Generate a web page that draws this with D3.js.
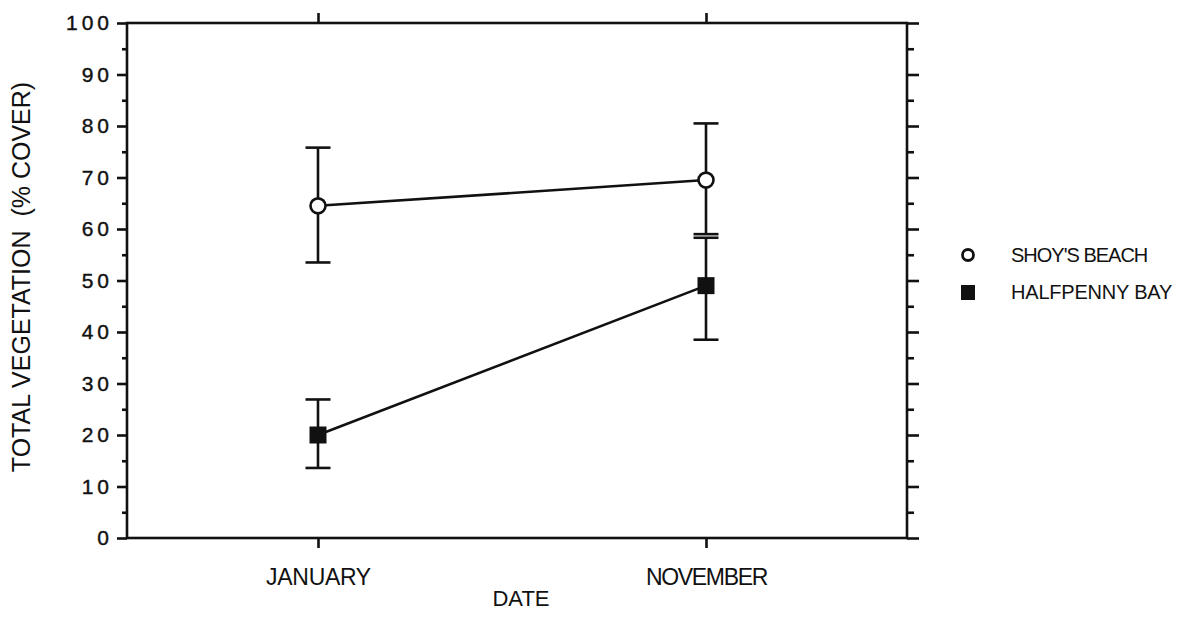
<!DOCTYPE html>
<html>
<head>
<meta charset="utf-8">
<script src="https://cdn.jsdelivr.net/npm/d3@7"></script>
<style>
  body { margin: 0; background: #fff; }
  svg { display: block; font-family: "Liberation Sans", Arial, sans-serif; }
</style>
</head>
<body>
<svg id="chart" width="1202" height="637"></svg>
<script>
// Sampling dates and sites
const dates = ["JANUARY", "NOVEMBER"];
const sites = ["SHOY'S BEACH", "HALFPENNY BAY"];

// Mean total vegetation cover (%) with error bar limits
const shoysMean  = [64.5, 69.5];
const shoysLow   = [53.5, 59];
const shoysHigh  = [75.8, 80.5];
const halfMean   = [20, 49];
const halfLow    = [13.6, 38.5];
const halfHigh   = [26.9, 58.3];

const yTicks = [0, 10, 20, 30, 40, 50, 60, 70, 80, 90, 100];
const yMinor = [5, 15, 25, 35, 45, 55, 65, 75, 85, 95];

const svg = d3.select("#chart");
const L = 127, R = 907, T = 23, B = 538;

const y = d3.scaleLinear().domain([0, 100]).range([B, T]);
const x = d3.scalePoint().domain(dates).range([318, 706]);

const ink = "#111";
const sw = 2.6;

// frame
svg.append("rect").attr("x", L).attr("y", T).attr("width", R - L).attr("height", B - T)
  .attr("fill", "none").attr("stroke", ink).attr("stroke-width", sw);

// left axis: labelled major ticks, short minor ticks
const left = svg.append("g").attr("transform", `translate(${L},0)`)
  .call(d3.axisLeft(y).tickValues(yTicks).tickSize(10).tickPadding(4).tickFormat(d3.format("d")));
left.select(".domain").remove();
left.selectAll(".tick line").attr("stroke", ink).attr("stroke-width", sw);
left.selectAll(".tick text").attr("fill", ink).attr("font-size", 21)
  .attr("stroke", ink).attr("stroke-width", 0.4)
  .attr("letter-spacing", "4px");
svg.append("g").attr("transform", `translate(${L},0)`)
  .call(d3.axisLeft(y).tickValues(yMinor).tickSize(5).tickFormat(""))
  .call(g => g.select(".domain").remove())
  .selectAll(".tick line").attr("stroke", ink).attr("stroke-width", sw);

// right axis: outward ticks, no labels
svg.append("g").attr("transform", `translate(${R},0)`)
  .call(d3.axisRight(y).tickValues(yTicks).tickSize(12).tickFormat(""))
  .call(g => g.select(".domain").remove())
  .selectAll(".tick line").attr("stroke", ink).attr("stroke-width", sw);
svg.append("g").attr("transform", `translate(${R},0)`)
  .call(d3.axisRight(y).tickValues(yMinor).tickSize(7).tickFormat(""))
  .call(g => g.select(".domain").remove())
  .selectAll(".tick line").attr("stroke", ink).attr("stroke-width", sw);

// bottom axis with date labels
const bottom = svg.append("g").attr("transform", `translate(0,${B})`)
  .call(d3.axisBottom(x).tickSize(10).tickPadding(21));
bottom.select(".domain").remove();
bottom.selectAll(".tick line").attr("stroke", ink).attr("stroke-width", sw);
bottom.selectAll(".tick text").attr("fill", ink).attr("font-size", 23)
  .attr("letter-spacing", d => d === "NOVEMBER" ? "-1.3px" : "-0.3px");

// top axis ticks
svg.append("g").attr("transform", `translate(0,${T})`)
  .call(d3.axisTop(x).tickSize(10).tickFormat(""))
  .call(g => g.select(".domain").remove())
  .selectAll(".tick line").attr("stroke", ink).attr("stroke-width", sw);

// axis titles
svg.append("text").attr("x", 521).attr("y", 606).attr("text-anchor", "middle")
  .attr("font-size", 22).attr("fill", ink).text("DATE");
svg.append("text").attr("transform", `translate(30,277) rotate(-90)`)
  .attr("text-anchor", "middle").attr("font-size", 25).attr("fill", ink)
  .attr("xml:space", "preserve")
  .text("TOTAL VEGETATION  (% COVER)");

const series = [
  { name: sites[0], mean: shoysMean, low: shoysLow, high: shoysHigh, shape: "circle" },
  { name: sites[1], mean: halfMean, low: halfLow, high: halfHigh, shape: "square" }
];

const line = d3.line().x((d, i) => x(dates[i])).y(d => y(d));
const capW = 12.5;

series.forEach(s => {
  const g = svg.append("g");
  // error bars
  dates.forEach((dt, i) => {
    const cx = x(dt);
    g.append("line").attr("x1", cx).attr("x2", cx).attr("y1", y(s.low[i])).attr("y2", y(s.high[i]))
      .attr("stroke", ink).attr("stroke-width", sw);
    [s.low[i], s.high[i]].forEach(v => {
      g.append("line").attr("x1", cx - capW).attr("x2", cx + capW).attr("y1", y(v)).attr("y2", y(v))
        .attr("stroke", ink).attr("stroke-width", sw);
    });
  });
  // connecting line
  g.append("path").attr("d", line(s.mean)).attr("fill", "none").attr("stroke", ink).attr("stroke-width", sw);
  // markers
  s.mean.forEach((v, i) => {
    const cx = x(dates[i]), cy = y(v);
    if (s.shape === "circle") {
      g.append("circle").attr("cx", cx).attr("cy", cy).attr("r", 7.5)
        .attr("fill", "#fff").attr("stroke", ink).attr("stroke-width", sw);
    } else {
      g.append("rect").attr("x", cx - 8.5).attr("y", cy - 8.5).attr("width", 17).attr("height", 17).attr("fill", ink);
    }
  });
});

// legend
const legend = svg.append("g");
series.forEach((s, i) => {
  const ly = 255 + i * 37;
  if (s.shape === "circle") {
    legend.append("circle").attr("cx", 968).attr("cy", ly).attr("r", 5.5)
      .attr("fill", "#fff").attr("stroke", ink).attr("stroke-width", 2.8);
  } else {
    legend.append("rect").attr("x", 961).attr("y", ly - 7).attr("width", 14).attr("height", 15).attr("fill", ink);
  }
  legend.append("text").attr("x", 1011).attr("y", ly + 7).attr("font-size", 20)
    .attr("letter-spacing", i === 0 ? "-1px" : "-0.2px").attr("fill", ink).text(s.name);
});
</script>
</body>
</html>
